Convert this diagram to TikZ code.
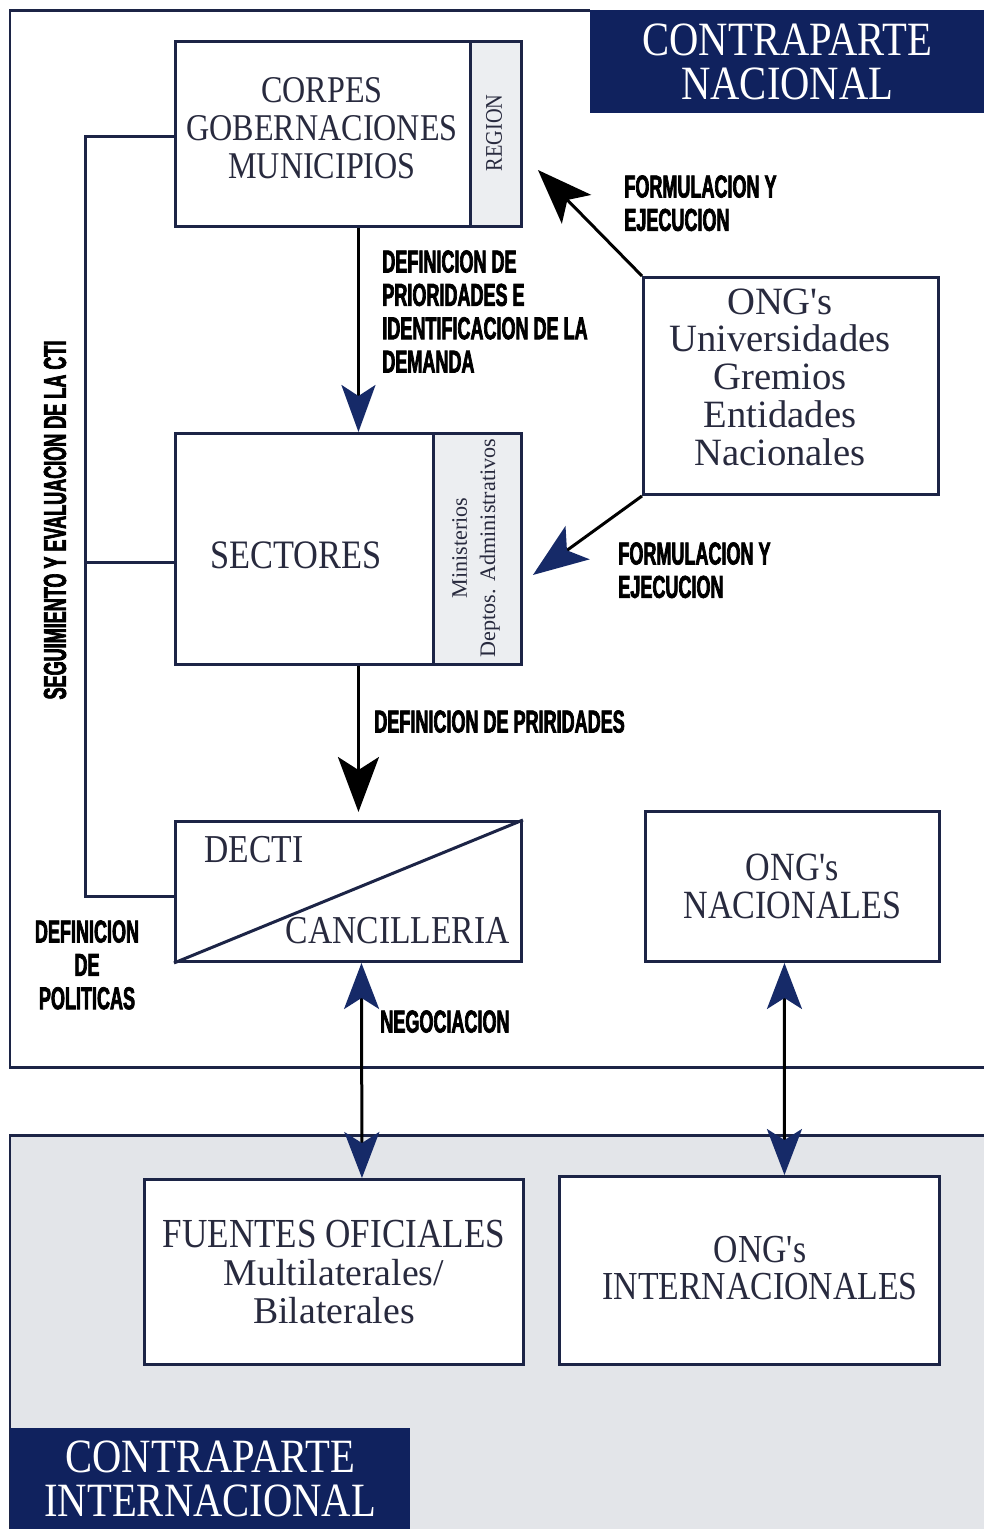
\documentclass[tikz,border=0pt]{standalone}
\usepackage{fontspec}
\setmainfont{Liberation Serif}
\newfontfamily\capsfont[FakeStretch=0.85]{Liberation Serif}
\newfontfamily\lblfont[FakeStretch=0.57,FakeBold=2.2]{Liberation Sans}
\usetikzlibrary{arrows.meta}
\definecolor{navy}{RGB}{16,34,94}
\definecolor{boxline}{RGB}{28,36,70}
\definecolor{headblue}{RGB}{22,42,104}
\definecolor{lowgray}{RGB}{227,229,233}
\definecolor{stripgray}{RGB}{236,238,241}
\definecolor{boxtext}{RGB}{40,42,62}
\tikzset{
  box/.style={draw=boxline,line width=0.06cm,fill=white,anchor=north west,inner sep=0pt},
  strip/.style={box,fill=stripgray,anchor=north east},
  boxtxt/.style={text=boxtext,align=center,inner sep=0pt},
  title/.style={fill=navy,text=white,anchor=north west,inner sep=0pt,align=center,
    font=\capsfont\fontsize{27.2}{25.5}\selectfont},
  lbl/.style={font=\lblfont\bfseries\fontsize{18}{19}\selectfont,align=left,inner sep=0pt,anchor=north west},
  conn/.style={draw=boxline,line width=0.06cm},
  arr/.style={draw=black,line width=0.06cm},
  bluehead/.style={-{Stealth[length=0.94cm,width=0.68cm,inset=0.22cm,color=headblue]}},
  blackhead/.style={-{Stealth[length=1.1cm,width=0.82cm,inset=0.26cm,color=black]}},
  bigblue/.style={-{Stealth[length=1.1cm,width=0.82cm,inset=0.26cm,color=headblue]}},
  bothblue/.style={{Stealth[length=0.92cm,width=0.7cm,inset=0.22cm,color=headblue]}-{Stealth[length=0.92cm,width=0.7cm,inset=0.22cm,color=headblue]}}
}

\begin{document}
\begin{tikzpicture}[x=0.02cm,y=-0.02cm]
\useasboundingbox (0,0) rectangle (984,1529);
\fill[white] (0,0) rectangle (984,1529);

\fill[lowgray] (10,1135) rectangle (984,1529);
\draw[conn] (984,1135) -- (10,1135) -- (10,1529);
\draw[conn] (590,10) -- (10,10) -- (10,1067) -- (984,1067);

\node[title,minimum width=7.88cm,minimum height=2.06cm] (natlbl) at (590,10) {CONTRAPARTE\\NACIONAL};
\node[title,minimum width=8cm,minimum height=2.02cm] (intlbl) at (10,1428) {CONTRAPARTE\\INTERNACIONAL};

\node[box,minimum width=6.92cm,minimum height=3.7cm] (corpes) at (174,40) {};
\node[strip,minimum width=1.02cm,minimum height=3.7cm] (region) at (corpes.north east) {};
\node[boxtxt,font=\capsfont\fontsize{21.5}{21.5}\selectfont] (corpestxt) at (322,128) {CORPES\\GOBERNACIONES\\MUNICIPIOS};
\node[boxtxt,rotate=90,font=\capsfont\fontsize{13.6}{14}\selectfont] (regiontxt) at (494,133) {REGION};

\node[box,minimum width=6.92cm,minimum height=4.62cm] (sect) at (174,432) {};
\node[strip,minimum width=1.76cm,minimum height=4.62cm] (minis) at (sect.north east) {};
\node[boxtxt,font=\capsfont\fontsize{23}{23}\selectfont] (secttxt) at (296,555) {SECTORES};
\node[boxtxt,rotate=90,font=\fontsize{12.6}{16}\selectfont] (ministxt) at (476,548) {Ministerios\\Deptos. Administrativos};

\node[box,minimum width=6.92cm,minimum height=2.8cm] (decti) at (174,820) {};
\draw[conn] (decti.south west) -- (decti.north east);
\node[boxtxt,anchor=base west,font=\capsfont\fontsize{22.5}{22.5}\selectfont] (dectitxt) at (204,862) {DECTI};
\node[boxtxt,anchor=base east,font=\capsfont\fontsize{22.5}{22.5}\selectfont] (canctxt) at (510,943) {CANCILLERIA};

\node[box,minimum width=5.9cm,minimum height=4.34cm] (ongu) at (642,276) {};
\node[boxtxt,font=\fontsize{22}{21.5}\selectfont] (ongutxt) at (780,377) {ONG\textquotesingle s\\Universidades\\Gremios\\Entidades\\Nacionales};

\node[box,minimum width=5.88cm,minimum height=3cm,boxtxt,font=\capsfont\fontsize{22.8}{21.5}\selectfont] (ongnac) at (644,810) {ONG's\\NACIONALES};

\node[box,minimum width=7.58cm,minimum height=3.7cm,boxtxt,font=\fontsize{21.5}{21.5}\selectfont] (fuentes) at (143,1178) {{\capsfont\fontsize{23.5}{21.5}\selectfont FUENTES OFICIALES}\\Multilaterales/\\Bilaterales};

\node[box,minimum width=7.6cm,minimum height=3.76cm] (ongint) at (558,1175) {};
\node[boxtxt,font=\capsfont\fontsize{22.6}{21.5}\selectfont] (onginttxt) at (760,1268) {ONG's\\INTERNACIONALES};

\draw[conn] ([shift={(0,2.5)}]corpes.west) -- ++(-89,0) |- ([shift={(0,5)}]decti.west);
\draw[conn] ([shift={(0,13.5)}]sect.west) -- ++(-89,0);

\draw[arr,bluehead] ([shift={(10,0)}]corpes.south) -- ([shift={(10,0)}]sect.north);
\draw[arr,blackhead] (ongu.north west) -- ([shift={(15,36)}]region.east);
\draw[arr,bigblue] (ongu.south west) -- ([shift={(10,26)}]minis.east);
\draw[arr,blackhead] ([shift={(10,0)}]sect.south) -- ([shift={(10,-8)}]decti.north);
\draw[arr,bothblue] ([shift={(13,0)}]decti.south) -- ([shift={(28,0)}]fuentes.north);
\draw[arr,bothblue] ([shift={(-8,0)}]ongnac.south) -- ([shift={(35,0)}]ongint.north);

\node[lbl] (lprior) at (382,250) {DEFINICION DE\\PRIORIDADES E\\IDENTIFICACION DE LA\\DEMANDA};
\node[lbl] (lform1) at (624,175) {FORMULACION Y\\EJECUCION};
\node[lbl] (lform2) at (618,542) {FORMULACION Y\\EJECUCION};
\node[lbl] (lprir) at (374,710) {DEFINICION DE PRIRIDADES};
\node[lbl] (lneg) at (380,1010) {NEGOCIACION};
\node[lbl,align=center,anchor=north] (lpol) at (87,920) {DEFINICION\\DE\\POLITICAS};
\node[lbl,anchor=center,rotate=90] (lseg) at (55,520) {SEGUIMIENTO Y EVALUACION DE LA CTI};
\end{tikzpicture}
\end{document}
